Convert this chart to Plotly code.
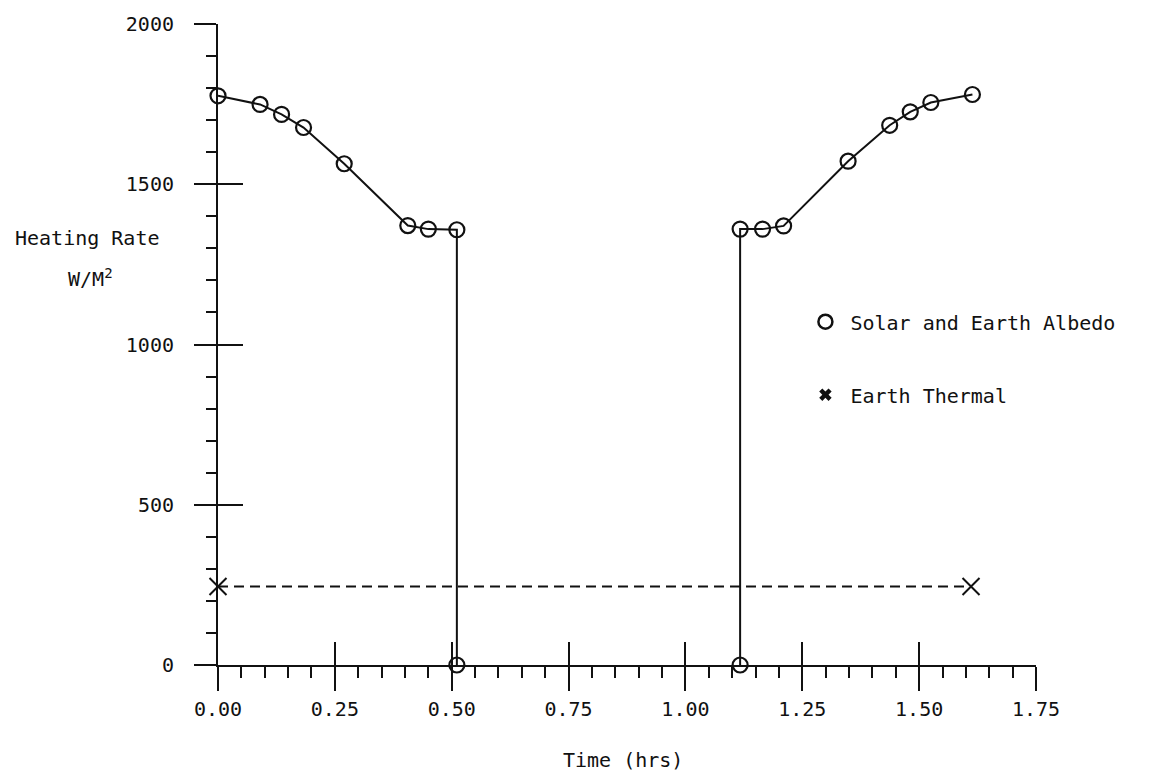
import plotly.graph_objects as go

# --- data ---
solar_time = [0.0, 0.09, 0.136, 0.183, 0.270, 0.406, 0.450, 0.511, 0.511, None,
              1.117, 1.117, 1.165, 1.210, 1.348, 1.437, 1.481, 1.525, 1.614]
solar_rate = [1776, 1749, 1718, 1677, 1564, 1371, 1360, 1358, 0, None,
              0, 1360, 1360, 1370, 1572, 1684, 1726, 1755, 1780]

thermal_time = [0.0, 1.611]
thermal_rate = [245, 245]

x_tickvals = [0.0, 0.25, 0.5, 0.75, 1.0, 1.25, 1.5, 1.75]
x_ticktext = ["0.00", "0.25", "0.50", "0.75", "1.00", "1.25", "1.50", "1.75"]
y_tickvals = [0, 500, 1000, 1500, 2000]
y_ticktext = ["0", "500", "1000", "1500", "2000"]

FONT = "DejaVu Sans Mono"
BLACK = "#111111"

fig = go.Figure()

fig.add_trace(go.Scatter(
    x=solar_time, y=solar_rate, mode="lines+markers",
    line=dict(color=BLACK, width=2),
    marker=dict(symbol="circle-open", size=15, color=BLACK, line=dict(width=2.2)),
    showlegend=False, hoverinfo="skip", connectgaps=False, cliponaxis=False))

fig.add_trace(go.Scatter(
    x=thermal_time, y=thermal_rate, mode="lines+markers",
    line=dict(color=BLACK, width=2, dash="10px,6px"),
    marker=dict(symbol="x-thin-open", size=17, color=BLACK, line=dict(width=2, color=BLACK)),
    showlegend=False, hoverinfo="skip", cliponaxis=False))

# legend entries
fig.add_trace(go.Scatter(
    x=[None], y=[None], mode="markers", name="Solar and Earth Albedo",
    marker=dict(symbol="circle-open", size=14, color=BLACK, line=dict(width=2.5)),
    legendgroup="a"))
fig.add_trace(go.Scatter(
    x=[None], y=[None], mode="markers", name="Earth Thermal",
    marker=dict(symbol="x", size=11, color=BLACK, line=dict(width=0)),
    legendgroup="b"))

# helper trace for the overlaid axes (inner halves of major ticks)
fig.add_trace(go.Scatter(x=[None], y=[None], xaxis="x2", yaxis="y2",
                         showlegend=False, hoverinfo="skip"))

tickfont = dict(family=FONT, size=20, color=BLACK)

fig.update_layout(
    width=1149, height=776,
    margin=dict(l=218, r=113, t=22, b=111),
    paper_bgcolor="white", plot_bgcolor="white",
    font=dict(family=FONT, size=20, color=BLACK),
    xaxis=dict(range=[0, 1.75], showgrid=False, zeroline=False,
               showline=True, linecolor=BLACK, linewidth=2,
               ticks="outside", ticklen=24, tickwidth=2, tickcolor=BLACK,
               tickvals=x_tickvals, ticktext=x_ticktext, tickfont=tickfont,
               ticklabelstandoff=1,
               minor=dict(ticks="outside", ticklen=11, tickwidth=2, tickcolor=BLACK,
                          dtick=0.05, tick0=0, showgrid=False)),
    xaxis2=dict(range=[0, 1.75], overlaying="x", anchor="y", side="bottom",
                showgrid=False, zeroline=False, showline=False,
                ticks="inside", ticklen=23, tickwidth=2, tickcolor=BLACK,
                tickvals=x_tickvals, showticklabels=False),
    yaxis=dict(range=[0, 2000], showgrid=False, zeroline=False,
               showline=True, linecolor=BLACK, linewidth=2,
               ticks="outside", ticklen=22, tickwidth=2, tickcolor=BLACK,
               tickvals=y_tickvals, ticktext=y_ticktext, tickfont=tickfont,
               ticklabelstandoff=16,
               minor=dict(ticks="outside", ticklen=10, tickwidth=2, tickcolor=BLACK,
                          dtick=100, tick0=0, showgrid=False)),
    yaxis2=dict(range=[0, 2000], overlaying="y", anchor="x", side="left",
                showgrid=False, zeroline=False, showline=False,
                ticks="inside", ticklen=25, tickwidth=2, tickcolor=BLACK,
                tickvals=y_tickvals, showticklabels=False),
    legend=dict(x=0.712, xanchor="left", y=0.566, yanchor="top",
                bgcolor="rgba(0,0,0,0)", font=dict(family=FONT, size=20, color=BLACK),
                traceorder="grouped", tracegroupgap=44, itemwidth=40),
    annotations=[
        dict(text="Heating Rate", xref="paper", yref="paper", x=0, y=0,
             xanchor="center", yanchor="middle", showarrow=False,
             xshift=-131, yshift=665 - 238,
             font=dict(family=FONT, size=20, color=BLACK)),
        dict(text="W/M<sup>2</sup>", xref="paper", yref="paper", x=0, y=0,
             xanchor="center", yanchor="middle", showarrow=False,
             xshift=-128, yshift=665 - 278,
             font=dict(family=FONT, size=20, color=BLACK)),
        dict(text="Time (hrs)", xref="paper", yref="paper", x=0.495, y=0,
             xanchor="center", yanchor="middle", showarrow=False,
             yshift=-(760 - 665),
             font=dict(family=FONT, size=20, color=BLACK)),
    ],
)

fig.write_html("out.html", config={"displayModeBar": False},
               post_script="document.body.style.margin='0';document.body.style.overflow='hidden';")
